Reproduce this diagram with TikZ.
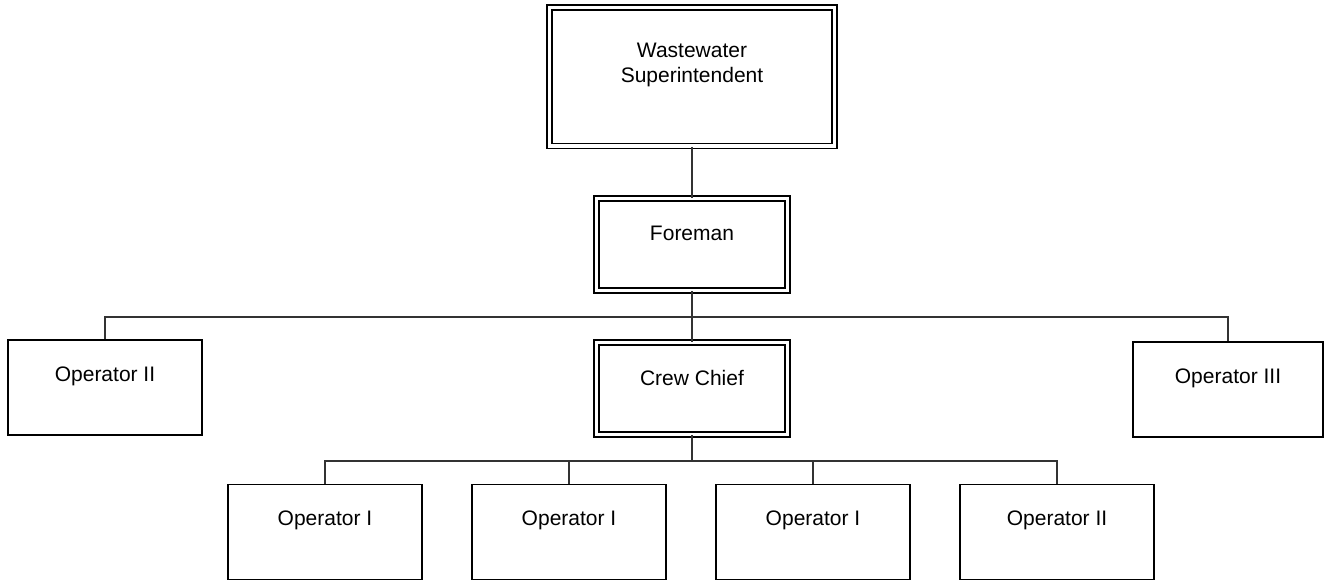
\documentclass[tikz,border=0pt]{standalone}
\usepackage{fontspec}
\setmainfont{Liberation Sans}
\begin{document}
\begin{tikzpicture}[x=1pt,y=-1pt,
  every label/.style={font=\fontsize{21}{25}\selectfont, align=center, inner sep=0pt},
  plainbox/.style={draw=black, line width=1.6pt, rectangle, inner sep=0pt,
    minimum width=194pt, minimum height=95pt},
  dblbox/.style={draw=black, double=white, double distance=3.2pt, line width=1.6pt,
    rectangle, inner sep=0pt, minimum width=191pt, minimum height=92pt},
  link/.style={draw=black!80, line width=1.1pt}]
  \useasboundingbox (0,0) rectangle (1325,582);
  \fill[white] (0,0) rectangle (1325,582);

  % management chain
  \node[dblbox, minimum width=285pt, minimum height=138.5pt,
        label={[yshift=12pt]center:Wastewater\\Superintendent}] (sup) at (692,76.75) {};
  \node[dblbox, label={[yshift=11pt]center:Foreman}] (fore) at (692,244.5) {};
  \node[dblbox, label={[yshift=11pt]center:Crew Chief}] (cc) at (692,388.5) {};

  % staff reporting to the foreman
  \node[plainbox, label={[yshift=11pt]center:Operator II}] (opl) at (105,387.5) {};
  \node[plainbox, minimum width=190pt, label={[yshift=11pt]center:Operator III}] (opr) at (1228,389.5) {};

  % crew
  \node[plainbox, label={[yshift=12pt]center:Operator I}] (c1) at (325,532) {};
  \node[plainbox, label={[yshift=12pt]center:Operator I}] (c2) at (569,532) {};
  \node[plainbox, label={[yshift=12pt]center:Operator I}] (c3) at (813,532) {};
  \node[plainbox, label={[yshift=12pt]center:Operator II}] (c4) at (1057,532) {};

  % bus lines
  \coordinate (busA) at (692,317);
  \coordinate (busB) at (692,461);

  \draw[link] (sup.south) -- (fore.north);
  \draw[link] (fore.south) -- (cc.north);
  \draw[link] (opl.north) |- (busA) -| (opr.north);
  \draw[link] (cc.south) -- (busB);
  \draw[link] (c1.north) |- (busB) -| (c4.north);
  \draw[link] (c2.north) -- (c2.north |- busB);
  \draw[link] (c3.north) -- (c3.north |- busB);
\end{tikzpicture}
\end{document}
